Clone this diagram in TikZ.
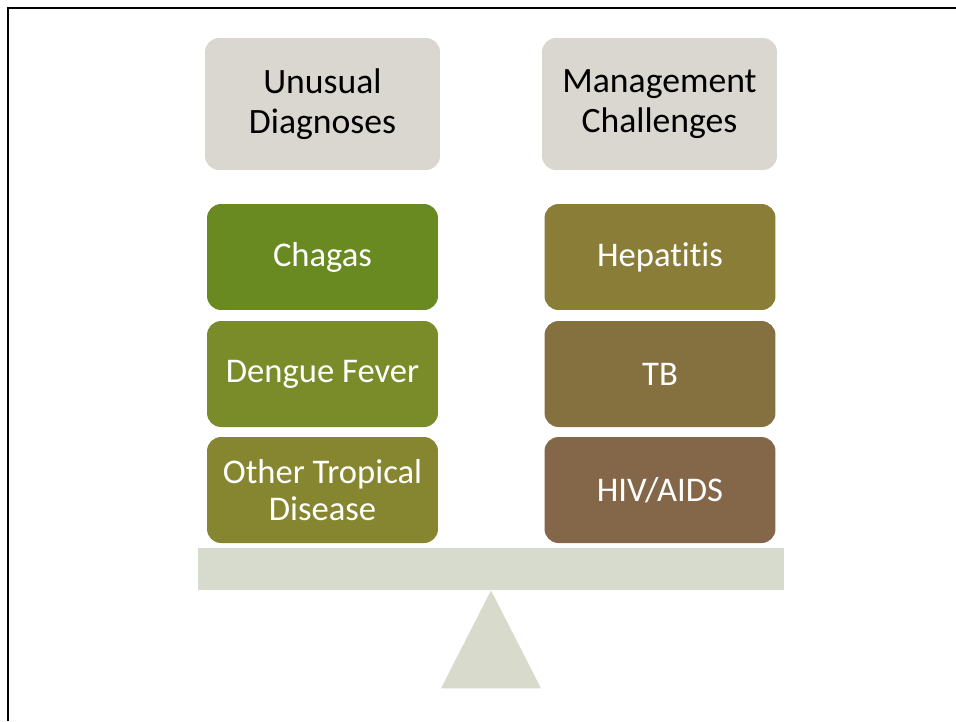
\documentclass[tikz,border=0pt]{standalone}
\usepackage{fontspec}
\setmainfont{Carlito}[Ligatures=NoCommon]
\definecolor{headgray}{HTML}{DAD7D1}
\definecolor{beamgray}{HTML}{D6DBCD}
\definecolor{pivotgray}{HTML}{D8DACB}
\definecolor{cChagas}{HTML}{688A21}
\definecolor{cDengue}{HTML}{7A8B2A}
\definecolor{cOther}{HTML}{878630}
\definecolor{cHep}{HTML}{897D38}
\definecolor{cTB}{HTML}{85703F}
\definecolor{cHIV}{HTML}{846749}
\begin{document}
\begin{tikzpicture}[x=0.02cm,y=-0.02cm,
  txt/.style={font=\fontsize{19.7}{21}\selectfont, align=center},
  header/.style={txt, rectangle, rounded corners=0.28cm, fill=headgray,
    text=black, minimum width=4.7cm, minimum height=2.64cm, inner sep=0pt,
    font=\fontsize{20.3}{22.5}\selectfont},
  item/.style={txt, rectangle, rounded corners=0.28cm, text=white,
    minimum width=4.62cm, minimum height=2.12cm, inner sep=0pt},
  beambar/.style={rectangle, fill=beamgray, minimum width=11.72cm,
    minimum height=0.84cm, inner sep=0pt}]
  \useasboundingbox (0,0) rectangle (956,721);
  % page frame (top and left edges)
  \draw[line width=1.7pt] (8,721) -- (8,8) -- (956,8);

  % column headings
  \node[header] (hL) at (322.5,104) {Unusual\\Diagnoses};
  \node[header] (hR) at (659.5,104) {Management\\Challenges};

  % left pan
  \node[item, fill=cChagas] (chagas) at (322.5,257) {Chagas};
  \node[item, fill=cDengue] (dengue) at (322.5,374) {Dengue Fever};
  \node[item, fill=cOther]  (other)  at (322.5,490) {Other Tropical\\Disease};

  % right pan
  \node[item, fill=cHep] (hep) at (660,257) {Hepatitis};
  \node[item, fill=cTB]  (tb)  at (660,374) {TB};
  \node[item, fill=cHIV] (hiv) at (660,490) {HIV/AIDS};

  % balance beam and pivot
  \node[beambar] (beam) at (491,569) {};
  \fill[pivotgray] (beam.south) -- ++(50,98) -- ++(-100,0) -- cycle;
\end{tikzpicture}
\end{document}
